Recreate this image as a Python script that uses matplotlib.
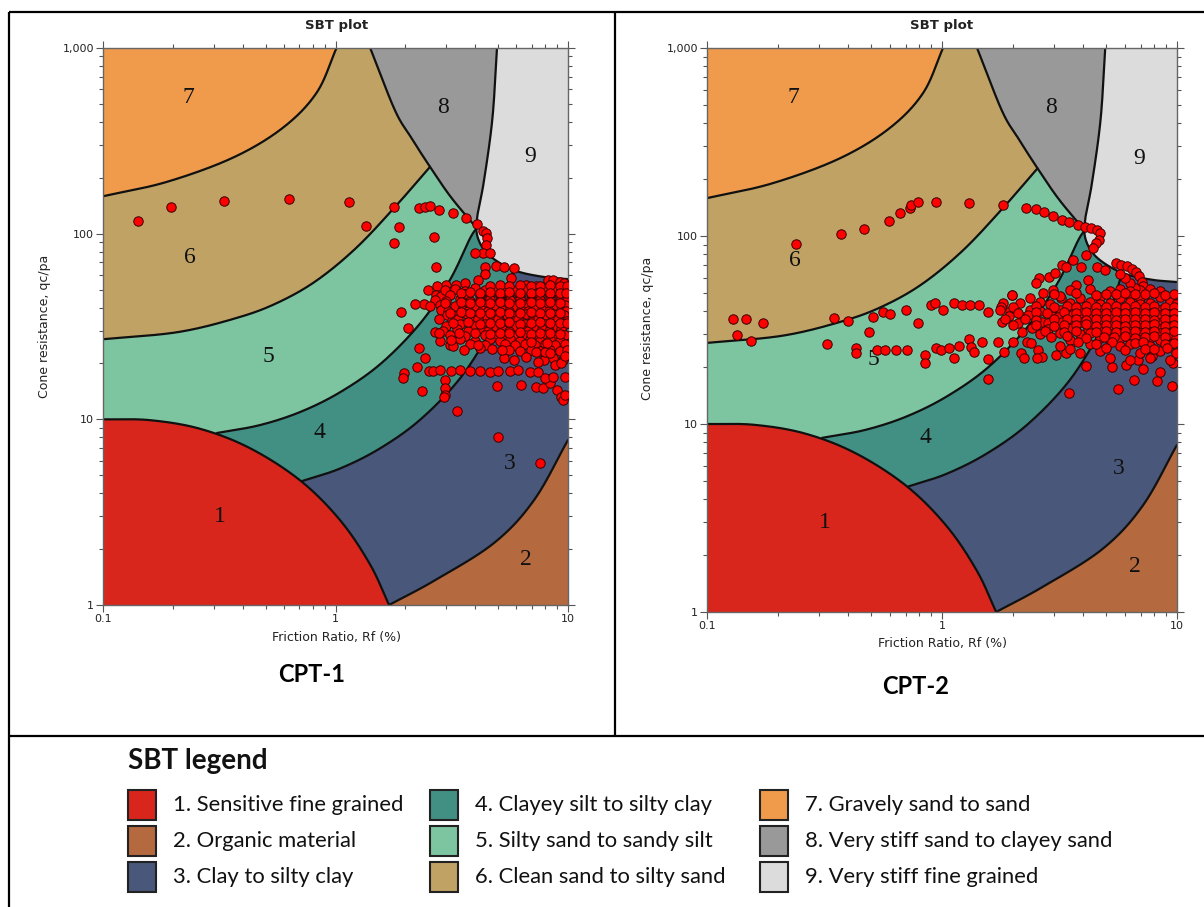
import numpy as np
import matplotlib
matplotlib.use("Agg")
import matplotlib.pyplot as plt
import matplotlib.font_manager as fm
from matplotlib.patches import Rectangle
from matplotlib.ticker import FixedLocator, FuncFormatter, LogLocator, NullFormatter

# ---------------- data ----------------
zone_ids = ["1", "2", "3", "4", "5", "6", "7", "8", "9"]
zone_names = ["1. Sensitive fine grained", "2. Organic material", "3. Clay to silty clay",
              "4. Clayey silt to silty clay", "5. Silty sand to sandy silt", "6. Clean sand to silty sand",
              "7. Gravely sand to sand", "8. Very stiff sand to clayey sand", "9. Very stiff fine grained"]
zone_colors = ["#d9261c", "#b4693f", "#48577a", "#428f83", "#7dc5a0", "#c0a265",
               "#ef9b4b", "#999999", "#dcdcdc"]
zone_label_rf = [0.318, 6.6, 5.63, 0.85, 0.513, 0.237, 0.234, 2.90, 6.87]
zone_label_qc = [2.98, 1.75, 5.8, 8.5, 21.9, 74, 544, 481, 259]

# zone boundaries (Rf %, qc/pa)
b1_rf = [0.1, 0.159, 0.261, 0.428, 0.703, 1.045, 1.406, 1.70]
b1_qc = [10.0, 9.9, 8.9, 7.0, 4.7, 2.87, 1.66, 1.0]
b76_rf = [0.1, 0.188, 0.363, 0.594, 0.83, 1.01]
b76_qc = [159, 190, 257, 372, 575, 1000]
b65_rf = [0.1, 0.21, 0.377, 0.56, 0.824, 1.225, 1.80, 2.55]
b65_qc = [27.0, 29.5, 35.2, 42.3, 55.6, 83.6, 139, 229]
b54_rf = [0.309, 0.473, 0.711, 1.057, 1.57, 2.31, 3.10, 3.78, 4.05]
b54_qc = [8.44, 9.31, 11.0, 14.1, 20.0, 32.8, 56.1, 93.8, 107]
b43_rf = [0.718, 1.045, 1.55, 2.31, 3.43, 4.62, 5.36, 5.80]
b43_qc = [4.65, 5.43, 6.96, 9.94, 16.6, 29.7, 45.3, 62.1]
b32_rf = [1.70, 2.68, 4.81, 7.14, 10.0]
b32_qc = [1.0, 1.36, 2.16, 3.67, 7.74]
b8_rf = [1.41, 1.80, 2.11, 2.55, 3.14, 4.05]
b8_qc = [1000, 463, 331, 229, 157, 107]
b9_rf = [4.95, 4.73, 4.345, 4.07, 4.09, 4.57, 5.82, 7.76, 10.0]
b9_qc = [1000, 417, 190.5, 123, 95.5, 76.7, 63.8, 58.6, 56.9]

# CPT-1 points
cpt1_upper_rf = [0.142, 0.196, 0.331, 0.631, 1.14, 1.35, 1.79, 1.87, 1.79, 2.29, 2.43, 2.55, 2.79, 3.2,
                 3.64, 4.06, 4.3, 4.45, 4.5, 4.45, 4.3, 2.65, 2.7, 4.6, 3.97]
cpt1_upper_qc = [117, 139, 150, 153, 148, 110, 139, 108, 89, 138, 139, 141, 134, 129,
                 121, 113, 104, 101, 95, 87, 79, 96, 66, 79, 79]
cpt1_trans_rf = [4.9, 5.3, 5.85, 5.7, 4.4, 4.4, 4.1, 3.6, 3.3, 3.0, 2.73, 2.5, 2.7, 2.85, 2.4, 2.2,
                 1.91, 2.05, 9.0, 8.2, 8.6, 9.2, 9.6, 6.6, 7.3, 8.6]
cpt1_trans_qc = [67, 66, 65, 58, 66, 61, 56, 54, 53, 53, 52, 50, 47, 46, 42, 42,
                 38, 31, 54, 56, 56, 55, 54, 53, 52, 50]
cpt1_core_rf = [2.96, 3.27, 3.6, 3.98, 4.39, 4.85, 5.36, 5.92, 6.53, 7.21, 7.96, 8.79, 9.5,
                3.1, 3.6, 4.2, 4.6, 5.1, 5.6, 6.2, 6.9, 7.6, 8.4, 9.2,
                2.68, 3.0, 3.43, 3.79, 4.18, 4.62, 5.1, 5.63, 6.22, 6.87, 7.58, 8.37, 9.24, 9.9,
                2.55, 2.81, 3.27, 3.6, 3.98, 4.39, 4.85, 5.36, 5.92, 6.53, 7.21, 7.96, 8.79, 9.7,
                2.85, 3.05, 3.5, 3.72, 4.25, 4.55, 5.2, 5.55, 6.3, 6.75, 7.7, 8.25, 9.35, 9.85,
                3.02, 3.22, 3.68, 3.92, 4.46, 4.78, 5.45, 5.85, 6.62, 7.1, 8.08, 8.65, 9.6,
                2.78, 3.18, 3.38, 3.86, 4.1, 4.7, 5.02, 5.72, 6.12, 6.98, 7.45, 8.5, 9.1, 9.95,
                3.0, 3.43, 3.98, 4.39, 4.85, 5.36, 5.92, 6.53, 7.21, 7.96, 8.79, 9.7,
                2.9, 3.33, 3.72, 4.25, 4.55, 5.18, 5.55, 6.32, 6.75, 7.7, 8.25, 9.35,
                3.11, 3.6, 4.39, 4.85, 5.36, 5.92, 6.53, 7.21, 7.96, 8.79, 9.7,
                2.81, 3.43, 3.98, 4.62, 5.1, 5.63, 6.22, 6.87, 7.58, 8.37, 9.24,
                3.11, 3.79, 4.39, 5.36, 5.92, 6.53, 7.21, 7.96, 8.79, 9.7]
cpt1_core_qc = [49.5, 50.5, 49, 51, 49.5, 50, 51, 49, 50.5, 49, 51, 50, 49,
                46.5, 47.5, 46, 47, 46.5, 47.5, 46, 47, 46.5, 47.5, 46,
                44, 43.5, 44.5, 43.5, 44, 44.5, 43.5, 44, 44.5, 43.5, 44, 44.5, 43.5, 44,
                41, 41.5, 41, 41.5, 41, 41.5, 41, 41.5, 41, 41.5, 41, 41.5, 41, 41.5,
                39, 38.5, 39, 38.5, 39, 38.5, 39, 38.5, 39, 38.5, 39, 38.5, 39, 38.5,
                36.5, 36, 37, 36.5, 36, 37, 36.5, 36, 37, 36.5, 36, 37, 36.5,
                34.5, 34, 34.5, 34, 34.5, 34, 34.5, 34, 34.5, 34, 34.5, 34, 34.5, 34,
                32, 32.5, 32, 32.5, 32, 32.5, 32, 32.5, 32, 32.5, 32, 32.5,
                30, 30.5, 30, 30.5, 30, 30.5, 30, 30.5, 30, 30.5, 30, 30.5,
                28.5, 28, 28.5, 28, 28.5, 28, 28.5, 28, 28.5, 28, 28.5,
                26.5, 27, 26.5, 27, 26.5, 27, 26.5, 27, 26.5, 27, 26.5,
                25, 25.5, 25, 25.5, 25, 25.5, 25, 25.5, 25, 25.5]
cpt1_fill_rf = [4.6, 5.1, 5.6, 6.2, 6.9, 7.6, 8.4, 9.2, 9.9,
                3.45, 3.8, 4.2, 4.6, 5.1, 5.6, 6.2, 6.9, 7.6, 8.4, 9.2, 9.8,
                2.95, 3.45, 3.8, 4.2, 4.6, 5.1, 5.6, 6.2, 6.9, 7.6, 8.4, 9.2,
                3.1, 3.45, 3.8, 4.2, 4.6, 5.1, 5.6, 6.2, 6.9, 7.6, 8.4, 9.2,
                3.2, 3.7, 4.2, 4.6, 5.1, 5.6, 6.2, 6.9, 7.6, 8.4, 9.2, 9.9,
                3.4, 4.0, 4.6, 5.1, 5.6, 6.2, 6.9, 7.6, 8.4, 9.2,
                5.6, 6.2, 6.9, 7.6, 8.4, 9.2, 9.9,
                7.9, 8.6, 9.5]
cpt1_fill_qc = [52.5, 53, 52, 53, 52.5, 52, 53, 52.5, 52,
                48, 48.5, 47.8, 48.3, 48, 48.6, 47.9, 48.2, 48.5, 47.8, 48.2, 48,
                42.5, 42.8, 42.2, 42.6, 42.4, 42.8, 42.2, 42.5, 42.7, 42.3, 42.6, 42.4,
                37.5, 37.8, 37.3, 37.6, 37.4, 37.8, 37.2, 37.5, 37.7, 37.3, 37.6, 37.4,
                33, 33.3, 32.8, 33.2, 33, 33.4, 32.8, 33.1, 33.3, 32.9, 33.2, 33,
                29, 29.3, 28.8, 29.2, 29, 29.4, 28.8, 29.1, 29.3, 28.9,
                23.5, 23.2, 23.7, 23.3, 23.6, 23.4, 23.5,
                21, 21.3, 20.8]
cpt1_lower_rf = [2.29, 2.43, 2.24, 1.98, 1.95, 2.35, 2.52, 2.62, 2.81, 3.14, 3.43, 3.78, 4.18, 4.62,
                 5.0, 5.63, 6.1, 6.87, 7.43, 2.95, 2.95, 2.97, 2.93, 3.33, 5.0, 7.6, 4.96, 6.3, 7.3,
                 7.8, 8.4, 9.0, 9.3, 9.5, 8.8, 9.3, 8.0, 8.6, 5.3, 5.85, 6.6, 7.4, 7.3, 8.0, 8.4,
                 6.9, 8.1, 4.7, 5.2, 4.2, 3.2, 3.14, 3.56, 4.1, 9.7, 9.7, 9.7, 2.68, 2.79]
cpt1_lower_qc = [24.2, 21.4, 19.1, 17.8, 16.6, 14.2, 18.2, 18.2, 18.4, 18.2, 18.4, 18.2, 18.2, 18.0,
                 18.2, 18.2, 18.4, 18.0, 18.0, 16.3, 14.7, 13.5, 13.2, 11.1, 8.0, 5.8, 15.1, 15.3, 14.9,
                 14.7, 15.6, 14.4, 13.2, 12.7, 19.6, 20.1, 16.6, 16.9, 21.4, 20.8, 21.6, 20.3, 23, 23, 22.8,
                 26.1, 25.7, 23.9, 23.6, 24.2, 24.8, 26.7, 23.6, 25.1, 22, 17, 13.5, 29.5, 29.1]

# CPT-2 points
cpt2_upper_rf = [0.239, 0.371, 0.466, 0.594, 0.662, 0.73, 0.74, 0.79, 0.94, 1.30, 1.82, 2.28, 2.51, 2.72,
                 2.97, 3.24, 3.47, 3.79, 4.06, 4.31, 4.57, 4.70, 4.65, 4.52, 4.39, 4.09, 3.6, 3.24, 2.84, 2.58]
cpt2_upper_qc = [90.7, 102, 109, 120, 132, 141, 146, 152, 152, 150, 146, 141, 139, 134,
                 128, 122, 119, 115, 112, 110, 108, 104, 95, 92, 86, 79, 74.5, 70.1, 60.5, 59.8]
cpt2_loop_rf = [3.03, 3.37, 3.90, 4.57, 4.94, 5.50, 5.8, 6.1, 6.43, 6.7, 6.9, 7.1, 7.16, 6.95, 6.6, 6.3,
                6.0, 5.7, 2.5, 2.7, 2.97, 3.2, 1.98, 1.81, 4.2, 3.7]
cpt2_loop_qc = [63.6, 68.4, 68.4, 68.4, 65.9, 71.8, 70.5, 69.5, 67, 64, 61, 57, 54, 51.6, 53, 56,
                60, 63, 56, 49.6, 51.6, 47, 48.5, 43.9, 58, 55]
cpt2_left_rf = [0.129, 0.147, 0.173, 0.134, 0.154, 0.347, 0.398, 0.323, 0.51, 0.56, 0.60, 0.70, 0.79, 0.49,
                0.43, 0.43, 0.53, 0.57, 0.64, 0.71, 0.85, 0.85, 0.94, 0.99, 1.07, 1.13, 1.18,
                0.897, 0.933, 1.01, 1.12, 1.22, 1.31, 1.44, 1.57, 1.78, 1.99,
                1.3, 1.33, 1.37, 1.48, 1.57, 1.57, 1.73, 1.84, 2.0, 2.17, 2.3, 2.55, 2.67,
                2.23, 2.54, 3.05, 3.37, 4.10, 5.28, 6.07, 6.56, 5.61, 3.47, 8.22, 9.52,
                7.2, 8.5, 9.6, 6.8, 7.8]
cpt2_left_qc = [36.2, 36.2, 34.5, 29.7, 27.6, 36.7, 35.3, 26.6, 37.1, 39.4, 38.5, 40.4, 34.5, 30.9,
                25.4, 23.9, 24.7, 24.7, 24.7, 24.7, 23.3, 21.1, 25.4, 24.7, 25.4, 22.4, 26.0,
                43, 44, 40.4, 44, 43, 43, 43, 39.4, 42, 48.5,
                28.3, 25.7, 24.2, 27.3, 22.2, 17.3, 27.3, 24.2, 27.3, 23.9, 27.3, 24.7, 22.7,
                22.4, 22.4, 23.3, 23.9, 20.4, 20.1, 20.6, 17.1, 15.4, 14.6, 16.9, 15.9,
                19.5, 19, 21, 22, 23]
cpt2_core_rf = [3.51, 4.27, 5.18, 5.72, 6.31, 7.67, 8.47,
                2.37, 3.18, 3.87, 4.70, 5.72, 6.31, 6.96, 8.47, 9.34,
                2.15, 2.61, 2.88, 3.51, 4.27, 4.70, 5.18, 6.31, 6.96, 7.67, 9.34, 9.9,
                1.77, 1.95, 2.37, 2.61, 3.18, 3.51, 3.87, 4.27, 4.70, 5.18, 5.72, 6.31, 6.96, 7.67, 8.47, 9.34,
                1.92, 2.2, 2.32, 2.93, 3.12, 3.58, 3.8, 4.35, 4.62, 5.28, 5.62, 6.42, 6.85, 7.8, 8.35, 9.8,
                1.8, 2.1, 2.66, 2.83, 3.24, 3.45, 3.95, 4.2, 4.8, 5.1, 5.82, 6.2, 7.08, 7.55, 8.6, 9.2,
                2.42, 2.83, 3.58, 4.2, 4.78, 5.1, 5.82, 6.2, 7.08, 7.55, 8.6, 9.8,
                2.61, 3.18, 3.87, 4.27, 5.18, 5.72, 6.31, 6.96, 7.67, 8.47, 9.34,
                3.51, 4.70, 5.18, 5.72, 6.96, 7.67, 8.47, 9.9,
                3.18, 4.27, 5.72, 6.31, 7.67, 9.34,
                3.87, 4.70, 6.96, 8.47, 9.9,
                5.18, 6.31, 7.67, 9.34]
cpt2_core_qc = [51.5, 52, 51, 52.5, 51, 52, 51,
                47, 48, 47, 47.5, 47, 48, 47, 47.5, 47,
                44, 44.5, 43.5, 44, 44.5, 43.5, 44, 44.5, 43.5, 44, 44.5, 43.5,
                40.5, 40, 40.5, 40, 40.5, 40, 40.5, 40, 40.5, 40, 40.5, 40, 40.5, 40, 40.5, 40,
                37.5, 37, 38, 37.5, 37, 38, 37.5, 37, 38, 37.5, 37, 38, 37.5, 37, 38, 37.5,
                35, 34.5, 35, 34.5, 35, 34.5, 35, 34.5, 35, 34.5, 35, 34.5, 35, 34.5, 35, 34.5,
                32.5, 32, 32.5, 32, 32.5, 32, 32.5, 32, 32.5, 32, 32.5, 32,
                30, 30.5, 30, 30.5, 30, 30.5, 30, 30.5, 30, 30.5, 30,
                28, 28.5, 28, 28.5, 28, 28.5, 28, 28.5,
                26, 26.5, 26, 26.5, 26, 26.5,
                24, 24.5, 24, 24.5, 24,
                22.5, 22, 22.5, 22]
cpt2_fill_rf = [3.0, 3.7, 4.5, 5.0, 5.5, 6.0, 6.6, 7.3, 8.0, 8.9, 9.7,
                2.0, 2.5, 3.0, 3.4, 3.7, 4.1, 4.5, 5.0, 5.5, 6.0, 6.6, 7.3, 8.0, 8.9, 9.7,
                2.1, 2.5, 2.8, 3.3, 3.7, 4.1, 4.5, 5.0, 5.5, 6.0, 6.6, 7.3, 8.0, 8.9, 9.7,
                1.85, 2.25, 2.5, 3.0, 3.4, 3.7, 4.1, 4.5, 5.0, 5.5, 6.0, 6.6, 7.3, 8.0, 8.9, 9.7,
                2.0, 2.5, 3.0, 3.3, 3.7, 4.1, 4.5, 5.0, 5.5, 6.0, 6.6, 7.3, 8.0, 8.9, 9.7,
                2.2, 2.75, 3.3, 3.7, 4.5, 5.0, 5.5, 6.0, 6.6, 7.3, 8.0, 8.9, 9.7,
                2.9, 3.4, 4.1, 4.9, 5.4, 6.0, 6.6, 7.3, 8.0, 8.9,
                2.4, 3.8, 4.5, 5.3, 6.6, 7.2, 8.9, 9.7,
                3.5, 5.0, 6.0, 7.3, 8.0, 9.1]
cpt2_fill_qc = [49, 49.5, 48.8, 49.3, 49, 49.6, 48.9, 49.2, 49.5, 48.8, 49.2,
                42, 42.3, 41.8, 42.2, 42, 42.4, 41.8, 42.1, 42.3, 41.9, 42.2, 42, 42.4, 41.8, 42.1,
                39, 39.3, 38.8, 39.2, 39, 39.4, 38.8, 39.1, 39.3, 38.9, 39.2, 39, 39.4, 38.8, 39.1,
                36, 36.3, 35.8, 36.2, 36, 36.4, 35.8, 36.1, 36.3, 35.9, 36.2, 36, 36.4, 35.8, 36.1, 36,
                33.5, 33.8, 33.3, 33.7, 33.5, 33.9, 33.3, 33.6, 33.8, 33.4, 33.7, 33.5, 33.9, 33.3, 33.6,
                31, 31.3, 30.8, 31.2, 31, 31.4, 30.8, 31.1, 31.3, 30.9, 31.2, 31, 31.4,
                29, 29.3, 28.8, 29.2, 29, 29.4, 28.8, 29.1, 29.3, 28.9,
                27, 27.3, 26.8, 27.2, 27, 27.4, 26.8, 27.1,
                25, 25.3, 24.8, 25.2, 25, 25.4]

# ---------------- helpers ----------------
W, H = 1204, 907
avail = {f.name for f in fm.fontManager.ttflist}
leg_family = "Liberation Sans Narrow" if "Liberation Sans Narrow" in avail else "Lato"


def catmull(rf, qc, n=30):
    P = np.column_stack([np.log10(rf), np.log10(qc)])
    P = np.vstack([2 * P[0] - P[1], P, 2 * P[-1] - P[-2]])
    t = np.linspace(0, 1, n, endpoint=False)[:, None]
    segs = []
    for i in range(1, len(P) - 2):
        p0, p1, p2, p3 = P[i - 1], P[i], P[i + 1], P[i + 2]
        segs.append(0.5 * (2 * p1 + (p2 - p0) * t + (2 * p0 - 5 * p1 + 4 * p2 - p3) * t ** 2
                           + (3 * p1 - p0 - 3 * p2 + p3) * t ** 3))
    segs.append(P[-2][None, :])
    S = np.vstack(segs)
    return 10 ** S[:, 0], 10 ** S[:, 1]


def px_rect(x0, y0, x1, y1):
    return [x0 / W, 1 - y1 / H, (x1 - x0) / W, (y1 - y0) / H]


def draw_panel(ax, rf, qc):
    ax.set_xscale("log")
    ax.set_yscale("log")
    ax.set_xlim(0.1, 10)
    ax.set_ylim(1, 1000)
    ax.set_facecolor(zone_colors[5])
    kw = dict(lw=0, zorder=1)
    x, y = catmull(b65_rf, b65_qc)
    ax.fill(np.r_[x, 10, 10, 0.1], np.r_[y, y[-1], 1, 1], color=zone_colors[4], **kw)
    x, y = catmull(b54_rf, b54_qc)
    ax.fill(np.r_[x, 10, 10, x[0]], np.r_[y, y[-1], 1, 1], color=zone_colors[3], **kw)
    x, y = catmull(b43_rf, b43_qc)
    ax.fill(np.r_[x, 10, 10, x[0]], np.r_[y, y[-1], 1, 1], color=zone_colors[2], **kw)
    x, y = catmull(b32_rf, b32_qc)
    ax.fill(np.r_[x, 10], np.r_[y, 1], color=zone_colors[1], **kw)
    x, y = catmull(b1_rf, b1_qc)
    ax.fill(np.r_[x, 0.1], np.r_[y, 1], color=zone_colors[0], **kw)
    x, y = catmull(b76_rf, b76_qc)
    ax.fill(np.r_[x, 0.1], np.r_[y, 1000], color=zone_colors[6], **kw)
    x9, y9 = catmull(b9_rf, b9_qc)
    ax.fill(np.r_[x9, 10], np.r_[y9, 1000], color=zone_colors[8], **kw)
    x8, y8 = catmull(b8_rf, b8_qc)
    m = y9 >= b8_qc[-1]
    ax.fill(np.r_[x8, x9[m][::-1]], np.r_[y8, y9[m][::-1]], color=zone_colors[7], **kw)
    for brf, bqc in [(b1_rf, b1_qc), (b76_rf, b76_qc), (b65_rf, b65_qc), (b54_rf, b54_qc),
                     (b43_rf, b43_qc), (b32_rf, b32_qc), (b8_rf, b8_qc), (b9_rf, b9_qc)]:
        x, y = catmull(brf, bqc)
        ax.plot(x, y, color="#111111", lw=1.6, zorder=2, solid_capstyle="round")
    for lab, lx, ly in zip(zone_ids, zone_label_rf, zone_label_qc):
        ax.text(lx, ly, lab, fontsize=17, family="Liberation Serif", ha="center", va="center",
                color="#111111", zorder=3)
    ax.scatter(rf, qc, s=46, c="#ff0000", edgecolors="#3a0000", linewidths=0.7, zorder=5)

    ax.xaxis.set_major_locator(FixedLocator([0.1, 1, 10]))
    ax.xaxis.set_major_formatter(FuncFormatter(lambda v, p: "{:g}".format(v)))
    ax.xaxis.set_minor_locator(LogLocator(base=10, subs=np.arange(2, 10)))
    ax.xaxis.set_minor_formatter(NullFormatter())
    ax.yaxis.set_major_locator(FixedLocator([1, 10, 100, 1000]))
    ax.yaxis.set_major_formatter(FuncFormatter(lambda v, p: "{:,.0f}".format(v)))
    ax.yaxis.set_minor_locator(LogLocator(base=10, subs=np.arange(2, 10)))
    ax.yaxis.set_minor_formatter(NullFormatter())
    ax.tick_params(which="both", direction="out", top=True, right=True, color="#555555",
                   width=0.8, labelsize=8, labelcolor="#222222", pad=1.5)
    ax.tick_params(which="major", length=5)
    ax.tick_params(which="minor", length=3)
    for s in ax.spines.values():
        s.set_color("#666666")
        s.set_linewidth(1.0)


# ---------------- figure ----------------
fig = plt.figure(figsize=(W / 100, H / 100), dpi=100)
ax1 = fig.add_axes(px_rect(103, 48, 568, 605))
ax2 = fig.add_axes(px_rect(707, 48, 1177, 612))
draw_panel(ax1, np.r_[cpt1_upper_rf, cpt1_trans_rf, cpt1_core_rf, cpt1_fill_rf, cpt1_lower_rf],
           np.r_[cpt1_upper_qc, cpt1_trans_qc, cpt1_core_qc, cpt1_fill_qc, cpt1_lower_qc])
draw_panel(ax2, np.r_[cpt2_upper_rf, cpt2_loop_rf, cpt2_left_rf, cpt2_core_rf, cpt2_fill_rf],
           np.r_[cpt2_upper_qc, cpt2_loop_qc, cpt2_left_qc, cpt2_core_qc, cpt2_fill_qc])

ov = fig.add_axes([0, 0, 1, 1], zorder=10)
ov.set_xlim(0, W)
ov.set_ylim(H, 0)
ov.axis("off")

renderer = fig.canvas.get_renderer()


def fit(text, target, family, weight="normal", base=12):
    t = ov.text(0, 0, text, fontsize=base, family=family, weight=weight)
    w = t.get_window_extent(renderer).width
    t.remove()
    return base * target / w


# titles / axis labels
for cx, xl_y, yl_x, yl_y in [(337, 637, 45, 326), (942, 643, 647, 328)]:
    ov.text(cx, 26, "SBT plot", fontsize=9.5, weight="bold", ha="center", va="center", color="#222222")
    ov.text(cx, xl_y, "Friction Ratio, Rf (%)", fontsize=9, ha="center", va="center", color="#222222")
    ov.text(yl_x, yl_y, "Cone resistance, qc/pa", fontsize=9, ha="center", va="center",
            rotation=90, color="#222222")

# table lines
lk = dict(color="black", lw=1.6, clip_on=False, solid_capstyle="butt")
ov.plot([9, W], [12, 12], **lk)
ov.plot([9, 9], [12, H], **lk)
ov.plot([615, 615], [12, 736], **lk)
ov.plot([9, W], [736, 736], **lk)

# CPT labels
cpt_fs = fit("CPT-1", 67, "Lato", "bold")
ov.text(312, 675, "CPT-1", fontsize=cpt_fs, family="Lato", weight="bold", ha="center", va="center")
ov.text(916, 687, "CPT-2", fontsize=cpt_fs, family="Lato", weight="bold", ha="center", va="center")

# legend
ttl_fs = fit("SBT legend", 139, leg_family, "bold")
ov.text(128, 761, "SBT legend", fontsize=ttl_fs, family=leg_family, weight="bold",
        ha="left", va="center", color="#111111")
leg_fs = fit(zone_names[0], 230, leg_family)
col_x = [128, 430, 760]
row_y = [805, 841, 877]
for i, (name, col) in enumerate(zip(zone_names, zone_colors)):
    cx = col_x[i // 3]
    cy = row_y[i % 3]
    ov.add_patch(Rectangle((cx, cy - 15), 28, 30, facecolor=col, edgecolor="#222222", lw=1.5))
    ov.text(cx + 45, cy, name, fontsize=leg_fs, family=leg_family, ha="left", va="center",
            color="#111111")

fig.savefig("out.png", dpi=100)
